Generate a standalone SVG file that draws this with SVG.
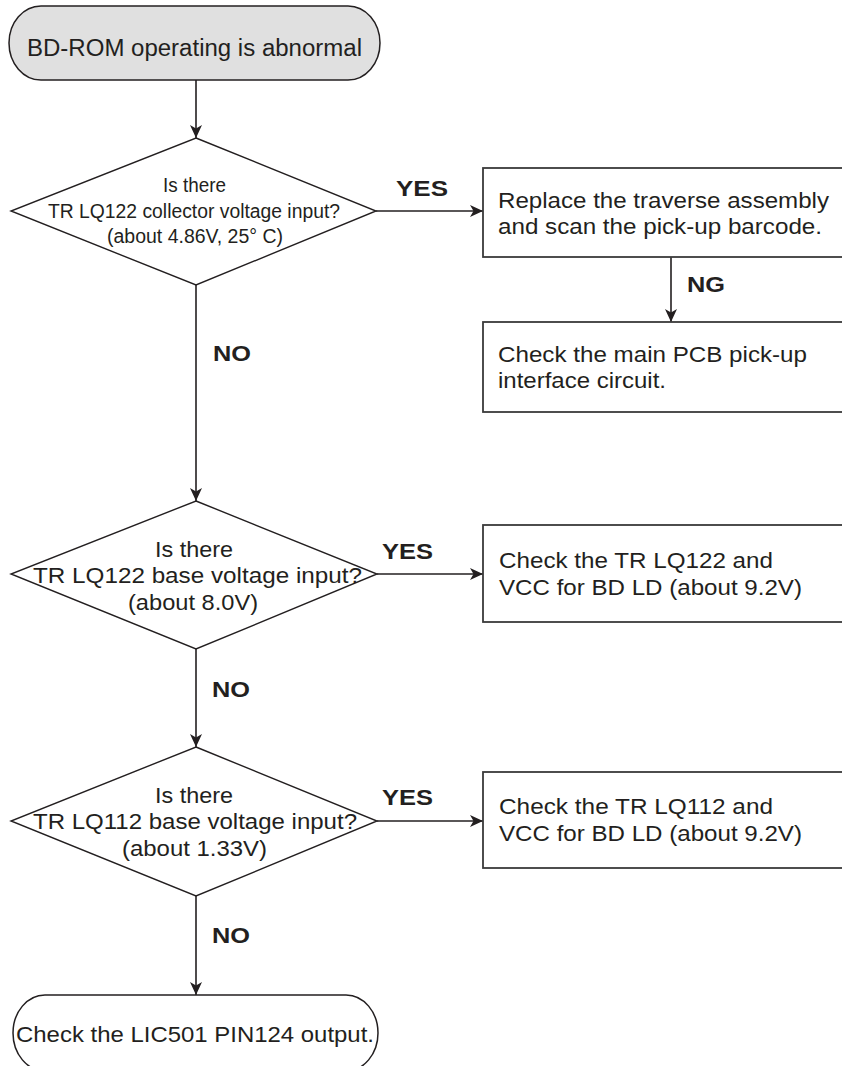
<svg xmlns="http://www.w3.org/2000/svg" width="842" height="1066" viewBox="0 0 842 1066">
<defs>
<style>
.t{font-family:"Liberation Sans",Arial,sans-serif;fill:#231f20}
.b{font-family:"Liberation Sans",Arial,sans-serif;fill:#231f20;font-weight:bold;font-size:22px}
.box{fill:#fff;stroke:#3a3a3a;stroke-width:1.8}
.dia{fill:#fff;stroke:#231f20;stroke-width:1.4}
.conn{fill:none;stroke:#231f20;stroke-width:1.6;marker-end:url(#ah)}
</style>
<marker id="ah" markerUnits="userSpaceOnUse" markerWidth="14" markerHeight="12" refX="13" refY="6" orient="auto">
<path d="M0,0 L13,6 L0,12 L3.5,6 Z" fill="#231f20"/>
</marker>
</defs>
<rect width="842" height="1066" fill="#fff"/>
<g id="connectors">
<line class="conn" x1="196" y1="80" x2="196" y2="138"/>
<line class="conn" x1="376" y1="211" x2="483" y2="211"/>
<line class="conn" x1="671" y1="257" x2="671" y2="322"/>
<line class="conn" x1="196" y1="285" x2="196" y2="501"/>
<line class="conn" x1="377" y1="574" x2="483" y2="574"/>
<line class="conn" x1="196" y1="649" x2="196" y2="747"/>
<line class="conn" x1="377" y1="821" x2="483" y2="821"/>
<line class="conn" x1="196" y1="896" x2="196" y2="995"/>
<text class="b" x="396" y="196" textLength="52" lengthAdjust="spacingAndGlyphs">YES</text>
<text class="b" x="687" y="292" textLength="38" lengthAdjust="spacingAndGlyphs">NG</text>
<text class="b" x="213" y="361" textLength="38" lengthAdjust="spacingAndGlyphs">NO</text>
<text class="b" x="382" y="559" textLength="51" lengthAdjust="spacingAndGlyphs">YES</text>
<text class="b" x="212" y="697" textLength="38" lengthAdjust="spacingAndGlyphs">NO</text>
<text class="b" x="382" y="805" textLength="51" lengthAdjust="spacingAndGlyphs">YES</text>
<text class="b" x="212" y="943" textLength="38" lengthAdjust="spacingAndGlyphs">NO</text>
</g>
<g id="start">
<rect x="9" y="6" width="371" height="74" rx="32" ry="37" fill="#e0e0e0" stroke="#231f20" stroke-width="1.5"/>
<text class="t" x="27" y="56" font-size="23" textLength="335" lengthAdjust="spacingAndGlyphs">BD-ROM operating is abnormal</text>
</g>
<g id="decision1">
<polygon class="dia" points="196,138 376,211 196,285 11,211"/>
<text class="t" font-size="20" x="163" y="192" textLength="63" lengthAdjust="spacingAndGlyphs">Is there</text>
<text class="t" font-size="20" x="48" y="218" textLength="292" lengthAdjust="spacingAndGlyphs">TR LQ122 collector voltage input?</text>
<text class="t" font-size="20" x="107" y="243" textLength="176" lengthAdjust="spacingAndGlyphs">(about 4.86V, 25° C)</text>
</g>
<g id="box1">
<rect class="box" x="483" y="168" width="370" height="89"/>
<text class="t" font-size="22" x="498" y="208" textLength="331" lengthAdjust="spacingAndGlyphs">Replace the traverse assembly</text>
<text class="t" font-size="22" x="498" y="234" textLength="324" lengthAdjust="spacingAndGlyphs">and scan the pick-up barcode.</text>
</g>
<g id="box2">
<rect class="box" x="483" y="322" width="370" height="90"/>
<text class="t" font-size="22" x="498" y="362" textLength="309" lengthAdjust="spacingAndGlyphs">Check the main PCB pick-up</text>
<text class="t" font-size="22" x="498" y="388" textLength="168" lengthAdjust="spacingAndGlyphs">interface circuit.</text>
</g>
<g id="decision2">
<polygon class="dia" points="196,501 377,574 196,649 11,574"/>
<text class="t" font-size="22" x="155" y="557" textLength="78" lengthAdjust="spacingAndGlyphs">Is there</text>
<text class="t" font-size="22" x="33" y="583" textLength="329" lengthAdjust="spacingAndGlyphs">TR LQ122 base voltage input?</text>
<text class="t" font-size="22" x="128" y="610" textLength="130" lengthAdjust="spacingAndGlyphs">(about 8.0V)</text>
</g>
<g id="box3">
<rect class="box" x="483" y="525" width="370" height="97"/>
<text class="t" font-size="22" x="499" y="568" textLength="274" lengthAdjust="spacingAndGlyphs">Check the TR LQ122 and</text>
<text class="t" font-size="22" x="499" y="595" textLength="303" lengthAdjust="spacingAndGlyphs">VCC for BD LD (about 9.2V)</text>
</g>
<g id="decision3">
<polygon class="dia" points="196,747 377,821 196,896 11,821"/>
<text class="t" font-size="22" x="155" y="803" textLength="78" lengthAdjust="spacingAndGlyphs">Is there</text>
<text class="t" font-size="22" x="33" y="829" textLength="324" lengthAdjust="spacingAndGlyphs">TR LQ112 base voltage input?</text>
<text class="t" font-size="22" x="122" y="856" textLength="145" lengthAdjust="spacingAndGlyphs">(about 1.33V)</text>
</g>
<g id="box4">
<rect class="box" x="483" y="772" width="370" height="96"/>
<text class="t" font-size="22" x="499" y="814" textLength="274" lengthAdjust="spacingAndGlyphs">Check the TR LQ112 and</text>
<text class="t" font-size="22" x="499" y="841" textLength="303" lengthAdjust="spacingAndGlyphs">VCC for BD LD (about 9.2V)</text>
</g>
<g id="end">
<rect x="13" y="995" width="365" height="76" rx="32" ry="38" fill="#fff" stroke="#231f20" stroke-width="1.5"/>
<text class="t" x="16" y="1042" font-size="22" textLength="358" lengthAdjust="spacingAndGlyphs">Check the LIC501 PIN124 output.</text>
</g>
</svg>
